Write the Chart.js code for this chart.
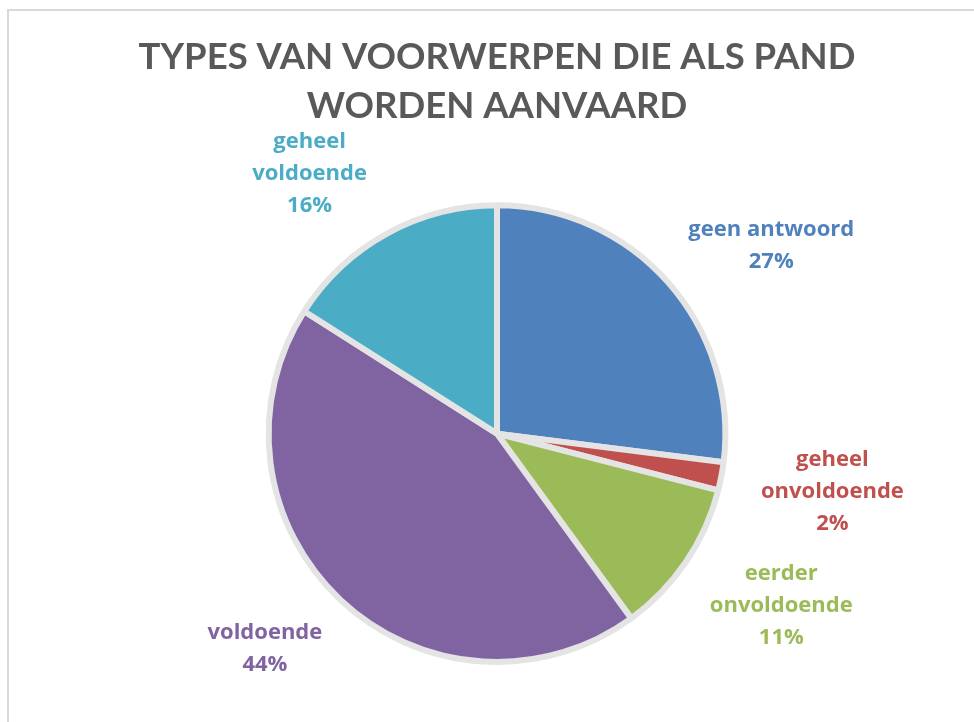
<!DOCTYPE html>
<html>
<head>
<meta charset="utf-8">
<script src="https://cdn.jsdelivr.net/npm/chart.js@4/dist/chart.umd.min.js"></script>
<style>
  html, body { margin: 0; padding: 0; background: #ffffff; }
  #wrap { position: relative; width: 974px; height: 722px; overflow: hidden; }
  #frame { position: absolute; left: 7px; top: 9px; width: 1100px; height: 900px; border-left: 2px solid #d9d9d9; border-top: 2px solid #d9d9d9; box-sizing: border-box; }
  canvas { position: absolute; left: 0; top: 0; }
</style>
</head>
<body>
<div id="wrap">
  <div id="frame"></div>
  <canvas id="c" width="974" height="722"></canvas>
</div>
<script>
const titleLines = ["TYPES VAN VOORWERPEN DIE ALS PAND", "WORDEN AANVAARD"];
const categories = ["geen antwoord", "geheel onvoldoende", "eerder onvoldoende", "voldoende", "geheel voldoende"];
const labelLines = [["geen antwoord"], ["geheel", "onvoldoende"], ["eerder", "onvoldoende"], ["voldoende"], ["geheel", "voldoende"]];
const percentages = [27, 2, 11, 44, 16];
const sliceColors = ["#4F81BD", "#C0504D", "#9BBB59", "#8064A2", "#4BACC6"];

const labelPlugin = {
  id: 'outerLabels',
  afterDatasetsDraw(chart, args, opts) {
    const ctx = chart.ctx;
    const meta = chart.getDatasetMeta(0);
    ctx.save();
    ctx.font = opts.font;
    ctx.textAlign = 'center';
    ctx.textBaseline = 'middle';
    meta.data.forEach((arc, i) => {
      const p = arc.getProps(['x', 'y', 'startAngle', 'endAngle', 'outerRadius'], true);
      const t = opts.tweaks[i];
      const ang = (p.startAngle + p.endAngle) / 2 + t.da * Math.PI / 180;
      const r = p.outerRadius + t.dr;
      const cx = p.x + Math.cos(ang) * r;
      const cy = p.y + Math.sin(ang) * r;
      const lines = labelLines[i].concat([percentages[i] + '%']);
      const lh = opts.lineHeight;
      const top = cy - (lines.length - 1) * lh / 2;
      ctx.fillStyle = sliceColors[i];
      lines.forEach((ln, k) => ctx.fillText(ln, cx, top + k * lh));
    });
    ctx.restore();
  }
};

new Chart(document.getElementById('c'), {
  type: 'pie',
  data: {
    labels: categories,
    datasets: [{
      data: percentages,
      backgroundColor: sliceColors,
      borderColor: '#e4e4e4',
      borderWidth: 6,
      hoverOffset: 0
    }]
  },
  options: {
    responsive: false,
    animation: false,
    events: [],
    layout: { padding: { left: 20, right: 0, top: 0, bottom: 57 } },
    plugins: {
      legend: { display: false },
      tooltip: { enabled: false },
      title: {
        display: true,
        text: titleLines,
        color: '#595959',
        font: { family: 'Lato', size: 36.5, weight: 'bold', lineHeight: 1.36 },
        padding: { top: 32, bottom: 71 }
      },
      outerLabels: {
        font: 'bold 22px "Open Sans"',
        lineHeight: 32,
        tweaks: [
          { da: 7, dr: 104 },
          { da: -1, dr: 112 },
          { da: -3, dr: 104 },
          { da: 4, dr: 88 },
          { da: -7, dr: 92 }
        ]
      }
    }
  },
  plugins: [labelPlugin]
});
</script>
</body>
</html>
